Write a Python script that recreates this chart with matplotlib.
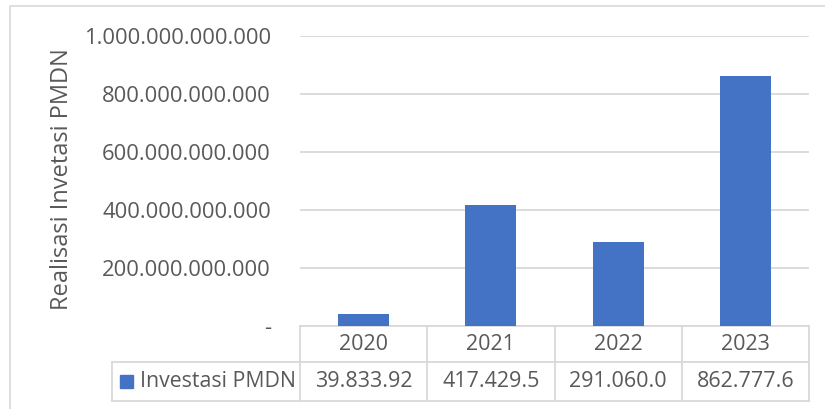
import matplotlib
matplotlib.use("Agg")
import matplotlib.pyplot as plt
from matplotlib.patches import Rectangle
from matplotlib.lines import Line2D

years = ["2020", "2021", "2022", "2023"]
pmdn = [39_833_920_000, 417_429_500_000, 291_060_000_000, 862_777_600_000]
series_name = "Investasi PMDN"
ylabel = "Realisasi Invetasi PMDN"

BLUE = "#4472C4"
TXT = "#595959"
GRID = "#D9D9D9"
plt.rcParams["font.family"] = ["Open Sans", "DejaVu Sans"]


def dotted(v):
    return f"{v:,.0f}".replace(",", ".")


W, H = 825, 409
fig = plt.figure(figsize=(W / 100, H / 100), dpi=100)
# outer chart border (right/bottom cut off in the reference)
fig.add_artist(Rectangle((10 / W, -0.1), 1.2, 1 - 6 / H + 0.1, transform=fig.transFigure,
                         fill=False, ec=GRID, lw=1.2))

L, R, T, B = 300, 809, 36, 326
ax = fig.add_axes([L / W, 1 - B / H, (R - L) / W, (B - T) / H])
x = range(len(years))
ax.bar(x, pmdn, width=0.4, color=BLUE, zorder=3)
ax.set_xlim(-0.5, len(years) - 0.5)
ax.set_ylim(0, 1e12)
ticks = [0, 2e11, 4e11, 6e11, 8e11, 1e12]
ax.set_yticks(ticks)
ax.set_yticklabels(["-" if t == 0 else dotted(t) for t in ticks], color=TXT, fontsize=15.8)
ax.tick_params(axis="y", length=0, pad=21)
ax.set_xticks([])
ax.grid(axis="y", color=GRID, lw=1.3, zorder=0)
for s in ax.spines.values():
    s.set_visible(False)
ax.set_ylabel(ylabel, color=TXT, fontsize=17, va="center")
ax.yaxis.set_label_coords((62 - L) / (R - L), (B - 179) / (B - T))

# data table below the plot
ph = B - T
def ay(py):
    return -(py - B) / ph
def axx(px):
    return (px - L) / (R - L)
r1, r2 = ay(362), ay(401)
lk = dict(transform=ax.transAxes, color=GRID, lw=1.3, clip_on=False)
ax.add_line(Line2D([0, 1], [0, 0], **lk))
ax.add_line(Line2D([axx(112), 1], [r1, r1], **lk))
ax.add_line(Line2D([axx(112), 1], [r2, r2], **lk))
for i in range(len(years) + 1):
    ax.add_line(Line2D([i / len(years)] * 2, [0, r2], **lk))
ax.add_line(Line2D([axx(112)] * 2, [r1, r2], **lk))
for i, (yr, v) in enumerate(zip(years, pmdn)):
    cx = (i + 0.5) / len(years)
    ax.text(cx, r1 / 2, yr, transform=ax.transAxes, ha="center", va="center",
            color=TXT, fontsize=15.5)
    ax.text(cx, (r1 + r2) / 2, dotted(v)[:9], transform=ax.transAxes, ha="center",
            va="center", color=TXT, fontsize=15.5)
ax.add_patch(Rectangle((axx(120), ay(388)), axx(133) - axx(120), ay(375) - ay(388),
                       transform=ax.transAxes, color=BLUE, clip_on=False))
ax.text(axx(140), (r1 + r2) / 2, series_name, transform=ax.transAxes, ha="left",
        va="center", color=TXT, fontsize=15.3)

fig.savefig("out.png", dpi=100)
